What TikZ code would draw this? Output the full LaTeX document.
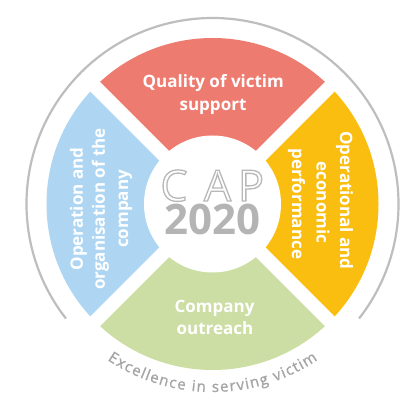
\documentclass[tikz,border=0pt]{standalone}
\usepackage{fontspec}
\setmainfont{Open Sans}
\usetikzlibrary{decorations.text}
\definecolor{cred}{RGB}{238,123,111}
\definecolor{cblue}{RGB}{174,214,242}
\definecolor{cyellow}{RGB}{250,190,16}
\definecolor{cgreen}{RGB}{204,222,164}
\definecolor{ringgray}{RGB}{190,190,190}
\definecolor{numgray}{RGB}{180,180,180}
\definecolor{excgray}{RGB}{165,165,165}
\newcommand{\outlinetext}[1]{\special{pdf:literal direct 2 Tr 1.3 w 0.72 0.72 0.72 RG}#1\special{pdf:literal direct 0 Tr}}
\begin{document}
\begin{tikzpicture}[x=1pt,y=1pt,
  lab/.style={text=white, font=\bfseries\fontsize{17}{20}\selectfont, inner sep=0pt, anchor=base},
  caplet/.style={text=white, font=\fontsize{43}{43}\selectfont, inner sep=0pt, anchor=base},
  gap/.style={white, line width=13.5pt}]
\useasboundingbox (-212.5,-207) rectangle (196.5,204);
\fill[white] (-212.5,-207) rectangle (196.5,204);
% sectors
\fill[cred] (0,0) -- (45:166) arc[start angle=45,end angle=135,radius=166] -- cycle;
\fill[cblue] (0,0) -- (135:166) arc[start angle=135,end angle=225,radius=166] -- cycle;
\fill[cgreen] (0,0) -- (225:166) arc[start angle=225,end angle=315,radius=166] -- cycle;
\fill[cyellow] (0,0) -- (315:166) arc[start angle=315,end angle=405,radius=166] -- cycle;
\draw[gap] (45:172) -- (225:172);
\draw[gap] (135:172) -- (315:172);
\fill[white] (0,0) circle[radius=68.5];
% outer ring
\draw[ringgray, line width=2.2pt] (-38:186) arc[start angle=-38,end angle=218,radius=186];
% curved text
\path[decorate, decoration={text along path, text align=fit to path, text color=excgray,
  text={|\fontsize{15}{15}\selectfont\addfontfeature{FakeBold=1.2}|Excellence in serving victim}}]
  (-124:188) arc[start angle=-124,end angle=-56,radius=188];
% center
\node[caplet] (capc) at (-38.5,3) {\outlinetext{C}};
\node[caplet] (capa) at (5,3) {\outlinetext{A}};
\node[caplet] (capp) at (38.5,3) {\outlinetext{P}};
\node[inner sep=0pt, anchor=base, text=numgray, font=\bfseries\fontsize{42}{42}\selectfont] (year) at (-0.5,-31) {2020};
% labels
\node[lab] (q1) at (0.8,116) {Quality of victim};
\node[lab] (q2) at (0.5,93) {support};
\node[lab, rotate=90] (b1) at (-129.5,-5) {Operation and};
\node[lab, rotate=90] (b2) at (-107.5,-5) {organisation of the};
\node[lab, rotate=90] (b3) at (-84.5,-5) {company};
\node[lab, rotate=-90] (y1) at (127.5,3.5) {Operational and};
\node[lab, rotate=-90] (y2) at (104,1.5) {economic};
\node[lab, rotate=-90] (y3) at (79.5,0) {performance};
\node[lab] (g1) at (2,-109) {Company};
\node[lab] (g2) at (2.5,-130) {outreach};
\end{tikzpicture}
\end{document}
